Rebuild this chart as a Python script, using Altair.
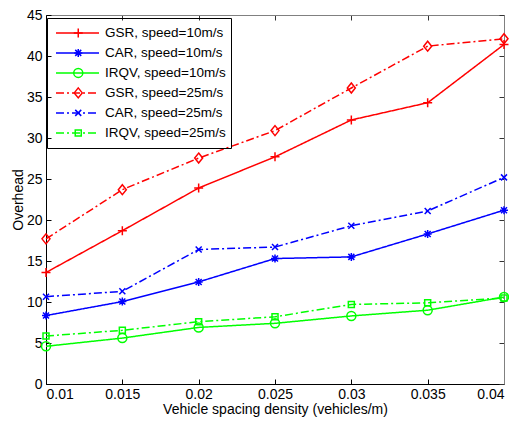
import altair as alt
import pandas as pd

x_vals = [0.01, 0.015, 0.02, 0.025, 0.03, 0.035, 0.04]
series_names = [
    "GSR, speed=10m/s",
    "CAR, speed=10m/s",
    "IRQV, speed=10m/s",
    "GSR, speed=25m/s",
    "CAR, speed=25m/s",
    "IRQV, speed=25m/s",
]
marker_keys = ["m1", "m2", "m3", "m4", "m5", "m6"]
gsr_10 = [13.6, 18.7, 23.9, 27.7, 32.2, 34.3, 41.4]
car_10 = [8.35, 10.05, 12.45, 15.3, 15.5, 18.3, 21.2]
irqv_10 = [4.6, 5.6, 6.9, 7.4, 8.3, 9.0, 10.6]
gsr_25 = [17.7, 23.7, 27.55, 30.9, 36.1, 41.2, 42.1]
car_25 = [10.65, 11.3, 16.4, 16.7, 19.3, 21.1, 25.2]
irqv_25 = [5.85, 6.55, 7.6, 8.2, 9.7, 9.9, 10.5]
x_ticks = [0.01, 0.015, 0.02, 0.025, 0.03, 0.035, 0.04]
y_ticks = [0, 5, 10, 15, 20, 25, 30, 35, 40, 45]

series_values = [gsr_10, car_10, irqv_10, gsr_25, car_25, irqv_25]
rows = []
for name, key, vals in zip(series_names, marker_keys, series_values):
    for xv, yv in zip(x_vals, vals):
        rows.append({"x": xv, "y": yv, "series": name, "marker": key})
df = pd.DataFrame(rows)

colors = ["#ff0000", "#0000ff", "#00ff00", "#ff0000", "#0000ff", "#00ff00"]
dashes = [[1, 0], [1, 0], [1, 0], [8, 3, 2, 3], [8, 3, 2, 3], [8, 3, 2, 3]]
shapes = [
    "M-0.9,0L0.9,0M0,-0.9L0,0.9",
    "M-0.8,0L0.8,0M0,-0.8L0,0.8M-0.6,-0.6L0.6,0.6M-0.6,0.6L0.6,-0.6",
    "M0.9,0A0.9,0.9,0,1,1,-0.9,0A0.9,0.9,0,1,1,0.9,0Z",
    "M0,-1L0.8,0L0,1L-0.8,0Z",
    "M-0.6,-0.6L0.6,0.6M-0.6,0.6L0.6,-0.6",
    "M-0.6,-0.6L0.6,-0.6L0.6,0.6L-0.6,0.6Z",
]

FONT = "Liberation Sans"
FS = 14
x_scale = alt.Scale(domain=[0.01, 0.04], nice=False, zero=False)
y_scale = alt.Scale(domain=[0, 45], nice=False, zero=False)

x_axis = alt.Axis(
    values=x_ticks, format="~g", title="Vehicle spacing density (vehicles/m)",
    grid=False, domainColor="black", tickColor="black",
    tickSize={"expr": "-5"}, labelPadding=8, titlePadding=1,
)
y_axis = alt.Axis(
    values=y_ticks, title="Overhead", grid=False, domainColor="black",
    tickColor="black", tickSize={"expr": "-5"}, labelPadding=9, titlePadding=1,
)

X = alt.X("x:Q", scale=x_scale, axis=x_axis)
Y = alt.Y("y:Q", scale=y_scale, axis=y_axis)

leg_common = dict(
    title=None, orient="none", legendX=1, legendY=3, clipHeight=19.8,
    rowPadding=0, padding=5, labelFont=FONT, labelFontSize=13.5,
    labelColor="black", symbolStrokeWidth=1.5,
)
line_legend = alt.Legend(
    symbolType="stroke", symbolSize=1849, symbolOffset=3, labelOffset=5,
    strokeColor="black", **leg_common,
)
point_legend = alt.Legend(
    symbolSize=100, symbolOffset=19.5, labelOffset=5, labelExpr="''",
    **leg_common,
)

lines = alt.Chart(df).mark_line(strokeWidth=1.5).encode(
    x=X, y=Y,
    color=alt.Color("series:N", scale=alt.Scale(domain=series_names, range=colors), legend=line_legend),
    strokeDash=alt.StrokeDash("series:N", scale=alt.Scale(domain=series_names, range=dashes), legend=line_legend),
    order=alt.Order("x:Q"),
)
points = alt.Chart(df).mark_point(filled=False, size=100, strokeWidth=1.5, opacity=1).encode(
    x=X, y=Y,
    stroke=alt.Stroke("marker:N", scale=alt.Scale(domain=marker_keys, range=colors), legend=point_legend),
    shape=alt.Shape("marker:N", scale=alt.Scale(domain=marker_keys, range=shapes), legend=point_legend),
)

frame = alt.Chart(df).mark_point(opacity=0, size=1).encode(
    x=alt.X("x:Q", scale=x_scale, axis=alt.Axis(
        orient="top", values=x_ticks, labels=False, title=None, grid=False,
        domainColor="#808080", tickColor="#333333", tickSize={"expr": "-5"})),
    y=alt.Y("y:Q", scale=y_scale, axis=alt.Axis(
        orient="right", values=y_ticks, labels=False, title=None, grid=False,
        domainColor="#808080", tickColor="#333333", tickSize={"expr": "-5"})),
)

chart = alt.layer(alt.layer(lines, points), frame).resolve_axis(
    x="independent", y="independent"
).properties(
    width=458, height=369, autosize="none", background="white",
    padding={"left": 38, "top": 7, "right": 5, "bottom": 33},
).configure_view(stroke=None).configure_axis(
    labelFont=FONT, labelFontSize=FS, labelColor="black",
    titleFont=FONT, titleFontSize=FS, titleFontWeight="normal", titleColor="black",
    domainWidth=1, tickWidth=1,
)

chart.save("out.html", embed_options={"renderer": "svg", "actions": False})
